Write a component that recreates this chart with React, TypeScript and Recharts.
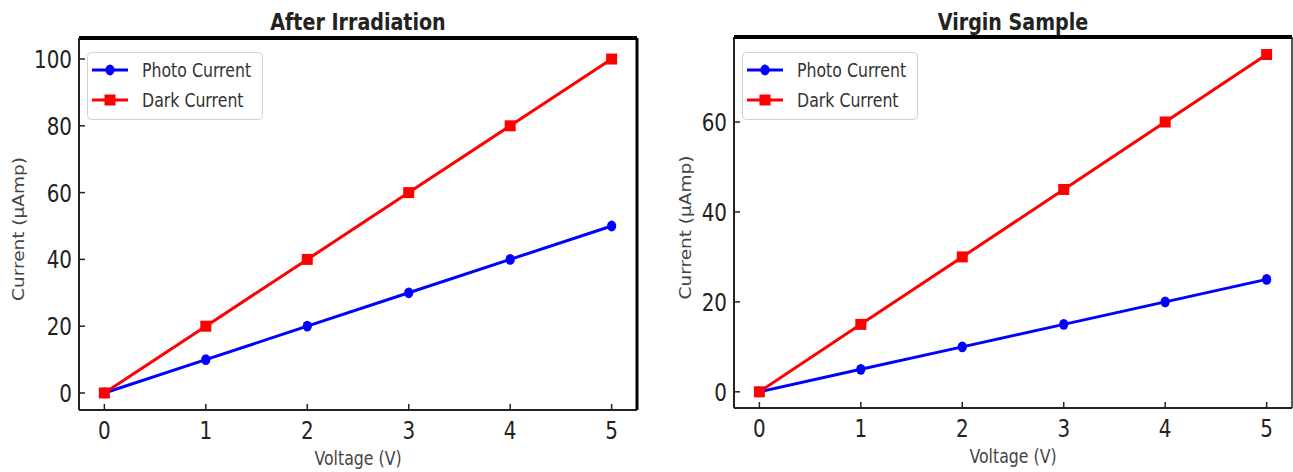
import React from 'react';
import { LineChart, Line, XAxis, YAxis, Legend } from 'recharts';

const voltage = [0, 1, 2, 3, 4, 5];
const photoAfter = [0, 10, 20, 30, 40, 50];
const darkAfter = [0, 20, 40, 60, 80, 100];
const photoVirgin = [0, 5, 10, 15, 20, 25];
const darkVirgin = [0, 15, 30, 45, 60, 75];

const xTicks = [0, 1, 2, 3, 4, 5];
const yTicksAfter = [0, 20, 40, 60, 80, 100];
const yTicksVirgin = [0, 20, 40, 60];

const seriesNames = ['Photo Current', 'Dark Current'];
const seriesColors = ['#0000ff', '#ff0000'];

const FONT = 'DejaVu Sans';
const SQUEEZE = 0.83;

const buildRows = (photo: number[], dark: number[]) =>
  voltage.map((v, i) => ({ v, photo: photo[i], dark: dark[i] }));

const XTick = (props: any) => {
  const { x, y, payload } = props;
  return (
    <g>
      <line x1={x} y1={y} x2={x} y2={y - 6} stroke="#222" strokeWidth={1.5} />
      <text
        transform={`translate(${x},${y + 29}) scale(${SQUEEZE},1)`}
        textAnchor="middle"
        fontSize={24}
        fontFamily={FONT}
        fill="#222"
      >
        {payload.value}
      </text>
    </g>
  );
};

const YTick = (props: any) => {
  const { x, y, payload } = props;
  return (
    <g>
      <line x1={x} y1={y} x2={x + 6} y2={y} stroke="#222" strokeWidth={1.5} />
      <text
        transform={`translate(${x - 7},${y + 9}) scale(${SQUEEZE},1)`}
        textAnchor="end"
        fontSize={24}
        fontFamily={FONT}
        fill="#222"
      >
        {payload.value}
      </text>
    </g>
  );
};

const TitleLabel = (props: any) => {
  const { viewBox, text } = props;
  const cx = viewBox.x + viewBox.width / 2;
  return (
    <text
      transform={`translate(${cx},30) scale(${SQUEEZE},1)`}
      textAnchor="middle"
      fontSize={23}
      fontWeight="bold"
      fontFamily={FONT}
      fill="#222"
    >
      {text}
    </text>
  );
};

const XLabel = (props: any) => {
  const { viewBox, text } = props;
  const cx = viewBox.x + viewBox.width / 2;
  return (
    <text
      transform={`translate(${cx},${viewBox.y + 55}) scale(${SQUEEZE},1)`}
      textAnchor="middle"
      fontSize={19}
      fontFamily={FONT}
      fill="#444"
    >
      {text}
    </text>
  );
};

const YLabel = (props: any) => {
  const { viewBox, text, lx } = props;
  const cy = viewBox.y + viewBox.height / 2 + 5;
  return (
    <text
      transform={`translate(${lx},${cy}) scale(${SQUEEZE},1) rotate(-90)`}
      textAnchor="middle"
      fontSize={18.5}
      fontFamily={FONT}
      fill="#444"
    >
      {text}
    </text>
  );
};

const CircleDot = (props: any) => {
  const { cx, cy, index } = props;
  return <ellipse key={`c${index}`} cx={cx} cy={cy} rx={4.6} ry={5.4} fill="#0000ff" />;
};

const SquareDot = (props: any) => {
  const { cx, cy, index } = props;
  return <rect key={`s${index}`} x={cx - 5.5} y={cy - 5.5} width={11} height={11} fill="#ff0000" />;
};

const LegendBox = () => (
  <svg width={176} height={68} style={{ display: 'block' }}>
    <rect x={0.5} y={0.5} width={175} height={67} rx={4} fill="rgba(255,255,255,0.85)" stroke="#d0d0d0" />
    {seriesNames.map((name, i) => {
      const cy = 18 + i * 30;
      return (
        <g key={name}>
          <line x1={5} y1={cy} x2={41} y2={cy} stroke={seriesColors[i]} strokeWidth={3} />
          {i === 0 ? (
            <ellipse cx={23} cy={cy} rx={4.6} ry={5.4} fill={seriesColors[i]} />
          ) : (
            <rect x={17.5} y={cy - 5.5} width={11} height={11} fill={seriesColors[i]} />
          )}
          <text
            transform={`translate(55,${cy + 7}) scale(${SQUEEZE},1)`}
            fontSize={19}
            fontFamily={FONT}
            fill="#333"
          >
            {name}
          </text>
        </g>
      );
    })}
  </svg>
);

interface PanelProps {
  title: string;
  data: { v: number; photo: number; dark: number }[];
  yDomain: [number, number];
  yTicks: number[];
  width: number;
  axisWidth: number;
  marginRight: number;
  marginTop: number;
  xAxisHeight: number;
  yLabelX: number;
  rightBorder: { stroke: string; strokeWidth: number };
  legendLeft: number;
}

const Panel: React.FC<PanelProps> = ({
  title,
  data,
  yDomain,
  yTicks,
  width,
  axisWidth,
  marginRight,
  marginTop,
  xAxisHeight,
  yLabelX,
  rightBorder,
  legendLeft,
}) => (
  <LineChart
    width={width}
    height={472}
    data={data}
    margin={{ top: marginTop - 1, right: marginRight - 1, bottom: 0, left: 0 }}
  >
    <XAxis
      dataKey="v"
      type="number"
      domain={[-0.25, 5.25]}
      ticks={xTicks}
      allowDataOverflow
      height={xAxisHeight}
      tickLine={false}
      tickSize={0}
      tickMargin={0}
      tick={<XTick />}
      axisLine={{ stroke: '#222', strokeWidth: 2 }}
      label={<XLabel text="Voltage (V)" />}
    />
    <XAxis
      xAxisId="top"
      orientation="top"
      dataKey="v"
      type="number"
      domain={[-0.25, 5.25]}
      ticks={xTicks}
      height={1}
      tick={false}
      tickLine={false}
      axisLine={{ stroke: '#000', strokeWidth: 4 }}
      label={<TitleLabel text={title} />}
    />
    <YAxis
      type="number"
      domain={yDomain}
      ticks={yTicks}
      allowDataOverflow
      width={axisWidth}
      tickLine={false}
      tickSize={0}
      tickMargin={0}
      tick={<YTick />}
      axisLine={{ stroke: '#222', strokeWidth: 2 }}
      label={<YLabel text="Current (µAmp)" lx={yLabelX} />}
    />
    <YAxis
      yAxisId="right"
      orientation="right"
      type="number"
      domain={yDomain}
      ticks={yTicks}
      width={1}
      tick={false}
      tickLine={false}
      axisLine={rightBorder}
    />
    <Legend
      layout="horizontal"
      verticalAlign="middle"
      align="center"
      wrapperStyle={{ top: 52, left: legendLeft, width: 176, height: 68 }}
      content={() => <LegendBox />}
    />
    <Line
      dataKey="photo"
      name={seriesNames[0]}
      stroke={seriesColors[0]}
      strokeWidth={3}
      dot={<CircleDot />}
      activeDot={false}
      isAnimationActive={false}
    />
    <Line
      dataKey="dark"
      name={seriesNames[1]}
      stroke={seriesColors[1]}
      strokeWidth={3}
      dot={<SquareDot />}
      activeDot={false}
      isAnimationActive={false}
    />
  </LineChart>
);

export default function App() {
  return (
    <div style={{ position: 'absolute', left: 0, top: 0, width: 1293, height: 472, background: '#fff' }}>
      <div style={{ position: 'absolute', left: 0, top: 0 }}>
        <Panel
          title="After Irradiation"
          data={buildRows(photoAfter, darkAfter)}
          yDomain={[-5.1, 106.3]}
          yTicks={yTicksAfter}
          width={660}
          axisWidth={79}
          marginRight={23}
          marginTop={38}
          xAxisHeight={62}
          yLabelX={24}
          rightBorder={{ stroke: '#000', strokeWidth: 3 }}
          legendLeft={87}
        />
      </div>
      <div style={{ position: 'absolute', left: 640, top: 0 }}>
        <Panel
          title="Virgin Sample"
          data={buildRows(photoVirgin, darkVirgin)}
          yDomain={[-3.6, 78.9]}
          yTicks={yTicksVirgin}
          width={653}
          axisWidth={94}
          marginRight={1}
          marginTop={37}
          xAxisHeight={64}
          yLabelX={51}
          rightBorder={{ stroke: '#222', strokeWidth: 1.5 }}
          legendLeft={102}
        />
      </div>
    </div>
  );
}
